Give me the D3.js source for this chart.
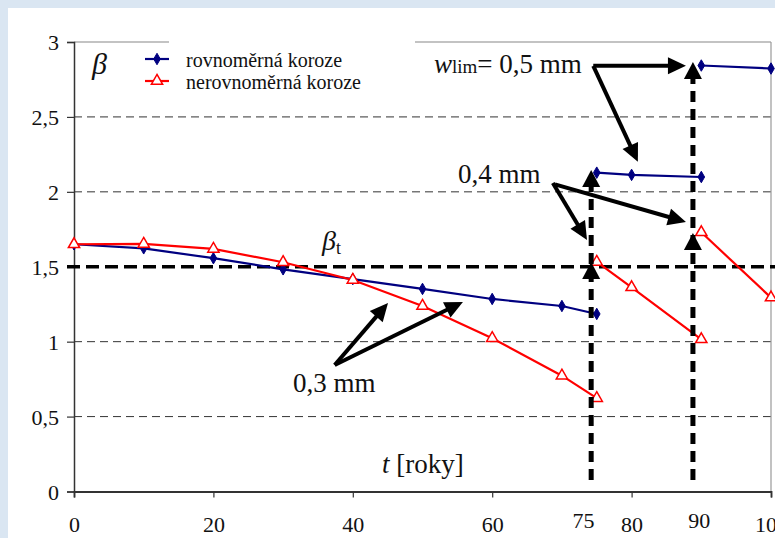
<!DOCTYPE html>
<html><head><meta charset="utf-8">
<script src="https://cdn.jsdelivr.net/npm/d3@7"></script>
<style>html,body{margin:0;padding:0;background:#dae6f2;}svg{display:block;}</style>
</head><body>
<script>
// ---- data ----
const yearsA = [0,10,20,30,40,50,60,70,75];
const yearsB = [75,80,90];
const yearsC = [90,100];
const uniformA = [1.65,1.623,1.557,1.483,1.418,1.352,1.285,1.238,1.185];
const uniformB = [2.128,2.113,2.099];
const uniformC = [2.843,2.823];
const nonuniformA = [1.65,1.652,1.619,1.53,1.412,1.238,1.023,0.773,0.623];
const nonuniformB = [1.532,1.363,1.016];
const nonuniformC = [1.730,1.294];
const xTicks = [0,20,40,60,80,100];
const yTicks = [0,0.5,1,1.5,2,2.5,3];
const extraXLabels = ["75","90"];
const extraXLabelPos = [73.1,89.7];
const betaTarget = 1.5;
const legendNames = ["rovnoměrná koroze","nerovnoměrná koroze"];
// limit-state markers (t, beta from, beta to)
const limitT = [74.2,88.8];
const limitTips = [[1.532,2.146],[1.726,2.867]];
// annotation arrows: [t0,b0,t1,b1]
const arrows03 = [[37.4,0.844,45.05,1.258],[37.4,0.844,55.8,1.265]];
const arrows04 = [[68.7,2.059,73.6,1.679],[69.0,2.05,87.8,1.799]];
const arrows05 = [[74.5,2.841,87.8,2.841],[74.5,2.841,80.9,2.200]];

const W=775,H=538;
const svg=d3.select("body").append("svg").attr("width",W).attr("height",H);
svg.append("rect").attr("width",W).attr("height",H).attr("fill","#dae6f2");
svg.append("rect").attr("x",8).attr("y",8).attr("width",W-8).attr("height",H-8).attr("fill","#fff");

const x=d3.scaleLinear().domain([0,100]).range([74,771]);
const y=d3.scaleLinear().domain([0,3]).range([491.5,42]);
const serif='"Liberation Serif","Times New Roman",serif';

// gridlines
svg.append("g").selectAll("line").data(yTicks.filter(v=>v>0&&v<3&&v!==1.5)).join("line")
 .attr("x1",x(0)).attr("x2",x(100)).attr("y1",d=>y(d)).attr("y2",d=>y(d))
 .attr("stroke","#333").attr("stroke-width",1).attr("stroke-dasharray","8,5");
// top border & right border
svg.append("line").attr("x1",x(0)).attr("x2",x(100)).attr("y1",y(3)).attr("y2",y(3)).attr("stroke","#888").attr("stroke-width",1.2);
svg.append("line").attr("x1",x(100)).attr("x2",x(100)).attr("y1",y(3)).attr("y2",y(0)).attr("stroke","#999").attr("stroke-width",1.2);
// legend mask
svg.append("rect").attr("x",169).attr("y",36).attr("width",246).attr("height",12).attr("fill","#fff");

// axes
const yAxis=d3.axisLeft(y).tickValues(yTicks).tickSize(7).tickFormat(d=>String(d).replace(".",","));
const gy=svg.append("g").attr("transform",`translate(${x(0)},0)`).call(yAxis);
gy.attr("font-family",serif);
gy.select(".domain").attr("stroke","#333").attr("stroke-width",1.5);
gy.selectAll(".tick line").attr("stroke","#333").attr("stroke-width",1.2);
gy.selectAll("text").style("font-family",serif).attr("font-size",22).attr("fill","#111").attr("x",-15).attr("dy","0.35em");

const xAxis=d3.axisBottom(x).tickValues(xTicks).tickSize(6).tickFormat(d=>d);
const gx=svg.append("g").attr("transform",`translate(0,${y(0)})`).call(xAxis);
gx.attr("font-family",serif);
gx.select(".domain").attr("stroke","#333").attr("stroke-width",1.8);
gx.selectAll(".tick line").attr("stroke","#333").attr("stroke-width",1.2);
gx.selectAll("text").style("font-family",serif).attr("font-size",22).attr("fill","#111").attr("y",40).attr("dy",0);
svg.append("g").selectAll("text").data(extraXLabels).join("text")
 .attr("x",(d,i)=>x(extraXLabelPos[i])).attr("y",528).attr("text-anchor","middle")
 .style("font-family",serif).attr("font-size",22).attr("fill","#111").text(d=>d);

// beta_t line
svg.append("line").attr("x1",x(0)-7).attr("x2",W).attr("y1",y(betaTarget)).attr("y2",y(betaTarget))
 .attr("stroke","#000").attr("stroke-width",3.5).attr("stroke-dasharray","13,6");

// series
const line=d3.line().x(d=>x(d[0])).y(d=>y(d[1]));
function series(ts,vs,color,isTri){
  const pts=ts.map((t,i)=>[t,vs[i]]);
  svg.append("path").attr("d",line(pts)).attr("fill","none").attr("stroke",color).attr("stroke-width",2.2);
  const sym=d3.symbol().type(isTri?d3.symbolTriangle:d3.symbolDiamond).size(isTri?55:38);
  svg.append("g").selectAll("path").data(pts).join("path")
   .attr("transform",d=>`translate(${x(d[0])},${y(d[1])})`).attr("d",sym())
   .attr("fill",isTri?"#fff":color).attr("stroke",color).attr("stroke-width",isTri?1.5:1);
}
series(yearsA,uniformA,"#000080",false);
series(yearsB,uniformB,"#000080",false);
series(yearsC,uniformC,"#000080",false);
series(yearsA,nonuniformA,"#ff0000",true);
series(yearsB,nonuniformB,"#ff0000",true);
series(yearsC,nonuniformC,"#ff0000",true);

// arrows
function head(x2,y2,ang,len,hw){
  const bx=x2-len*Math.cos(ang), by=y2-len*Math.sin(ang);
  const px=-Math.sin(ang)*hw, py=Math.cos(ang)*hw;
  svg.append("path").attr("d",`M${x2},${y2}L${bx+px},${by+py}L${bx-px},${by-py}Z`).attr("fill","#000");
}
function arrow(a){
  const x1=x(a[0]),y1=y(a[1]),x2=x(a[2]),y2=y(a[3]);
  const ang=Math.atan2(y2-y1,x2-x1);
  const len=18;
  svg.append("line").attr("x1",x1).attr("y1",y1).attr("x2",x2-(len-2)*Math.cos(ang)).attr("y2",y2-(len-2)*Math.sin(ang))
   .attr("stroke","#000").attr("stroke-width",4);
  head(x2,y2,ang,len,8.5);
}
[...arrows03,...arrows04,...arrows05].forEach(arrow);

// limit verticals
limitT.forEach((t,i)=>{
  const tips=limitTips[i];
  svg.append("line").attr("x1",x(t)).attr("x2",x(t)).attr("y1",480).attr("y2",y(tips[1])+14)
   .attr("stroke","#000").attr("stroke-width",5).attr("stroke-dasharray","11,7");
  tips.forEach(b=>head(x(t),y(b),-Math.PI/2,17,9));
});

// legend
legendNames.forEach((n,i)=>{
  const ly=[59,81][i];
  const c=i===0?"#000080":"#ff0000";
  svg.append("line").attr("x1",145).attr("x2",169).attr("y1",ly).attr("y2",ly).attr("stroke",c).attr("stroke-width",2.2);
  svg.append("path").attr("transform",`translate(157,${ly})`)
   .attr("d",d3.symbol().type(i===0?d3.symbolDiamond:d3.symbolTriangle).size(i===0?38:55)())
   .attr("fill",i===0?c:"#fff").attr("stroke",c).attr("stroke-width",i===0?1:1.5);
  svg.append("text").attr("x",186).attr("y",ly+8).style("font-family",serif).attr("font-size",20).attr("fill","#111").text(n);
});

// text labels
function txt(xp,yp,size){return svg.append("text").attr("x",xp).attr("y",yp).style("font-family",serif).attr("font-size",size).attr("fill","#111");}
txt(92,74,30).attr("font-style","italic").text("β");
const bt=txt(322,250,28);
bt.append("tspan").attr("font-style","italic").text("β");
bt.append("tspan").attr("font-size",18).attr("dy",4).text("t");
const tr=txt(382,473,27);
tr.append("tspan").attr("font-style","italic").text("t");
tr.append("tspan").text(" [roky]");
txt(293,392,27).text("0,3 mm");
txt(458,183,27).text("0,4 mm");
const wl=txt(434,73,27);
wl.append("tspan").attr("font-style","italic").text("w");
wl.append("tspan").attr("font-size",19).text("lim");
wl.append("tspan").text("= 0,5 mm");
</script>
</body></html>
